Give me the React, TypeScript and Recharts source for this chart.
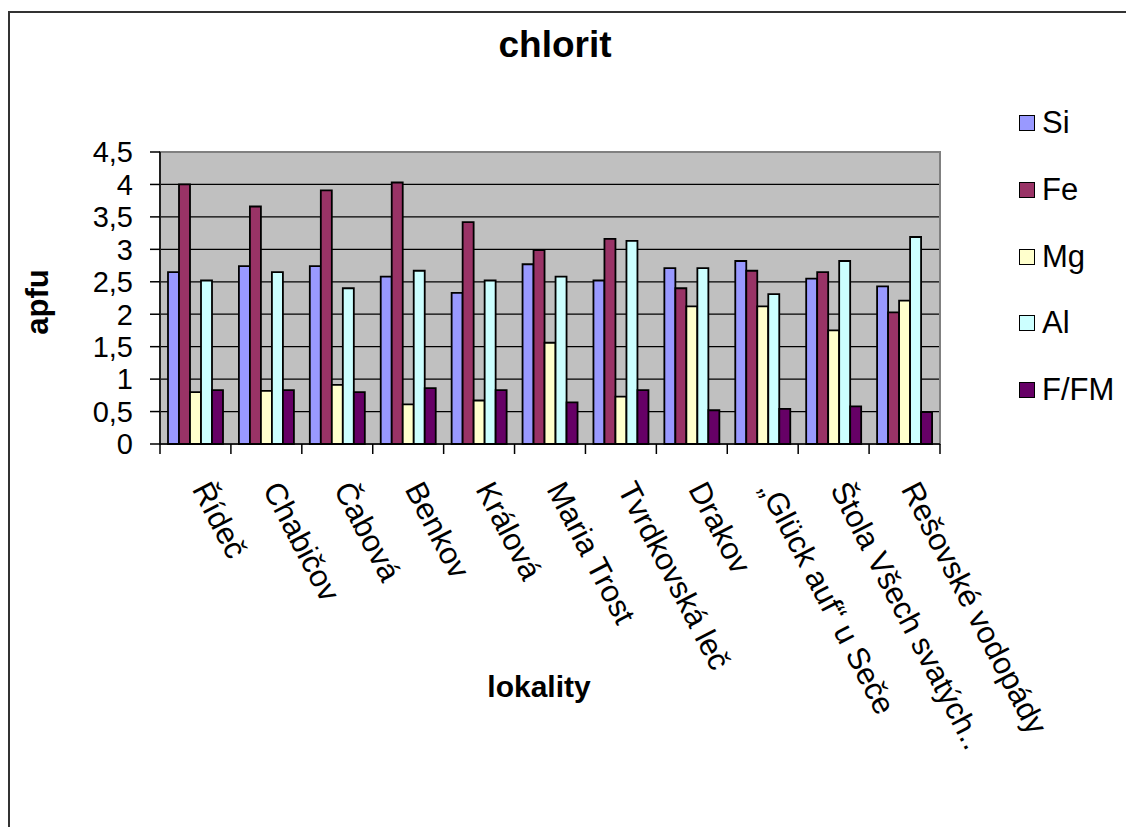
import { BarChart, Bar, XAxis, YAxis, CartesianGrid, ReferenceArea, Legend } from 'recharts'

// lokality (categories)
const localities = [
  'Řídeč',
  'Chabičov',
  'Čabová',
  'Benkov',
  'Králová',
  'Maria Trost',
  'Tvrdkovská leč',
  'Drakov',
  '„Glück auf“ u Seče',
  'Štola Všech svatých..',
  'Rešovské vodopády',
]

// apfu values
const siValues = [2.65, 2.74, 2.74, 2.58, 2.33, 2.77, 2.52, 2.71, 2.82, 2.55, 2.43]
const feValues = [4.0, 3.66, 3.91, 4.03, 3.42, 2.99, 3.16, 2.4, 2.67, 2.65, 2.03]
const mgValues = [0.8, 0.82, 0.91, 0.61, 0.67, 1.56, 0.73, 2.12, 2.12, 1.75, 2.21]
const alValues = [2.52, 2.65, 2.4, 2.67, 2.52, 2.58, 3.13, 2.71, 2.31, 2.82, 3.19]
const ffmValues = [0.83, 0.83, 0.8, 0.86, 0.83, 0.64, 0.83, 0.52, 0.54, 0.58, 0.49]

const yTicks = [0, 0.5, 1, 1.5, 2, 2.5, 3, 3.5, 4, 4.5]

const series = [
  { key: 'si', name: 'Si', color: '#9999FF' },
  { key: 'fe', name: 'Fe', color: '#993366' },
  { key: 'mg', name: 'Mg', color: '#FFFFCC' },
  { key: 'al', name: 'Al', color: '#CCFFFF' },
  { key: 'ffm', name: 'F/FM', color: '#660066' },
]

const data = localities.map((name, i) => ({
  name,
  si: siValues[i],
  fe: feValues[i],
  mg: mgValues[i],
  al: alValues[i],
  ffm: ffmValues[i],
}))

const FONT = '"Liberation Sans", Arial, sans-serif'

function CategoryTick(props: any) {
  const { x, y, payload, index } = props
  const half = payload.offset ?? 0
  const tx = x - 4
  const ty = y + 45
  return (
    <g>
      <line x1={x - half} y1={y} x2={x - half} y2={y + 10} stroke="#000" strokeWidth={1.5} />
      {index === localities.length - 1 && (
        <line x1={x + half} y1={y} x2={x + half} y2={y + 10} stroke="#000" strokeWidth={1.5} />
      )}
      <text
        x={tx}
        y={ty}
        transform={`rotate(62.5, ${tx}, ${ty})`}
        textAnchor="start"
        fontSize={31}
        fill="#000"
      >
        {payload.value}
      </text>
    </g>
  )
}

function LegendList() {
  return (
    <div style={{ fontFamily: FONT }}>
      {series.map((s) => (
        <div key={s.key} style={{ height: 66.7, display: 'flex', alignItems: 'center' }}>
          <span
            style={{
              display: 'inline-block',
              width: 14,
              height: 14,
              background: s.color,
              border: '1.5px solid #000',
              marginRight: 7,
            }}
          />
          <span style={{ fontSize: 31, color: '#000' }}>{s.name}</span>
        </div>
      ))}
    </div>
  )
}

export default function App() {
  return (
    <div
      style={{
        position: 'relative',
        marginTop: 3,
        width: 1124,
        height: 814,
        borderLeft: '2px solid #333',
        borderTop: '2px solid #333',
        fontFamily: FONT,
        background: '#fff',
      }}
    >
      <div
        style={{
          position: 'absolute',
          left: 545,
          top: 13,
          transform: 'translateX(-50%)',
          fontSize: 37,
          lineHeight: '37px',
          fontWeight: 'bold',
          whiteSpace: 'nowrap',
        }}
      >
        chlorit
      </div>
      <div
        style={{
          position: 'absolute',
          left: 27,
          top: 289,
          transform: 'translate(-50%, -50%) rotate(-90deg)',
          fontSize: 31,
          lineHeight: '31px',
          fontWeight: 'bold',
          whiteSpace: 'nowrap',
        }}
      >
        apfu
      </div>
      <div
        style={{
          position: 'absolute',
          left: 529,
          top: 659,
          transform: 'translateX(-50%)',
          fontSize: 30,
          lineHeight: '30px',
          fontWeight: 'bold',
          whiteSpace: 'nowrap',
        }}
      >
        lokality
      </div>
      <BarChart
        width={1124}
        height={814}
        data={data}
        margin={{ top: 139, right: 194, left: 0, bottom: 83 }}
        barCategoryGap={8}
        barGap={0}
      >
        <CartesianGrid
          vertical={false}
          stroke="#000"
          strokeWidth={1.2}
          fill="#C0C0C0"
          fillOpacity={1}
        />
        <ReferenceArea y1={0} y2={4.5} fill="none" stroke="#808080" strokeWidth={2} />
        <XAxis
          dataKey="name"
          interval={0}
          height={300}
          tickLine={false}
          tickSize={0}
          tickMargin={0}
          axisLine={{ stroke: '#000', strokeWidth: 1.5 }}
          tick={<CategoryTick />}
        />
        <YAxis
          width={150}
          domain={[0, 4.5]}
          ticks={yTicks}
          interval={0}
          tickSize={10}
          tickMargin={17}
          tickLine={{ stroke: '#000', strokeWidth: 1.5 }}
          axisLine={{ stroke: '#000', strokeWidth: 1.5 }}
          tick={{ fontSize: 29, fill: '#000' }}
          tickFormatter={(v: number) => String(v).replace('.', ',')}
        />
        <Legend
          layout="horizontal"
          verticalAlign="middle"
          align="center"
          wrapperStyle={{ left: 1009, top: 77, width: 'auto' }}
          content={() => <LegendList />}
        />
        {series.map((s) => (
          <Bar
            key={s.key}
            dataKey={s.key}
            name={s.name}
            fill={s.color}
            stroke="#000"
            strokeWidth={1.8}
            isAnimationActive={false}
          />
        ))}
      </BarChart>
    </div>
  )
}
